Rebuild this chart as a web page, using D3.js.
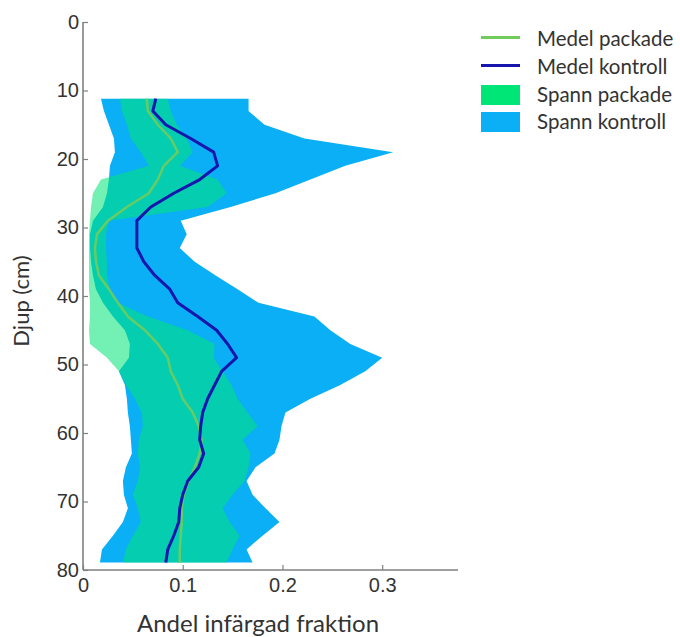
<!DOCTYPE html>
<html>
<head>
<meta charset="utf-8">
<script src="https://cdn.jsdelivr.net/npm/d3@7"></script>
<style>
  html, body { margin: 0; padding: 0; background: #fff; }
  svg { display: block; }
</style>
</head>
<body>
<script>
// Depth profile (cm) and stained fraction per depth
const depth = [11.2, 13, 15, 17, 19, 21, 23, 25, 27, 29,
               31, 33, 35, 37, 39, 41, 43, 45, 47, 49,
               51, 53, 55, 57, 59, 61, 63, 65, 67, 69,
               71, 73, 75, 77, 78.9];

const meanPackade = [0.064, 0.065, 0.075, 0.088, 0.095, 0.081, 0.075, 0.066, 0.044, 0.025,
                     0.014, 0.012, 0.013, 0.016, 0.026, 0.035, 0.045, 0.062, 0.075, 0.085,
                     0.088, 0.095, 0.100, 0.110, 0.116, 0.119, 0.117, 0.112, 0.106, 0.101,
                     0.099, 0.099, 0.098, 0.097, 0.097];

const meanKontroll = [0.073, 0.070, 0.083, 0.108, 0.131, 0.135, 0.117, 0.091, 0.068, 0.054,
                      0.054, 0.054, 0.061, 0.072, 0.087, 0.095, 0.115, 0.134, 0.145, 0.154,
                      0.139, 0.132, 0.125, 0.120, 0.118, 0.117, 0.121, 0.116, 0.105, 0.100,
                      0.097, 0.096, 0.091, 0.085, 0.083];

const spanPackadeMin = [0.037, 0.039, 0.044, 0.048, 0.058, 0.066, 0.018, 0.010, 0.008, 0.007,
                        0.006, 0.006, 0.006, 0.006, 0.006, 0.007, 0.007, 0.006, 0.007, 0.024,
                        0.036, 0.043, 0.052, 0.059, 0.060, 0.056, 0.055, 0.057, 0.055, 0.050,
                        0.055, 0.058, 0.050, 0.043, 0.040];

const spanPackadeMax = [0.085, 0.088, 0.094, 0.104, 0.110, 0.097, 0.135, 0.144, 0.125, 0.026,
                        0.023, 0.023, 0.024, 0.024, 0.027, 0.035, 0.065, 0.105, 0.132, 0.131,
                        0.140, 0.149, 0.155, 0.165, 0.175, 0.160, 0.168, 0.166, 0.162, 0.150,
                        0.140, 0.147, 0.157, 0.150, 0.144];

const spanKontrollMin = [0.018, 0.021, 0.026, 0.031, 0.032, 0.027, 0.026, 0.024, 0.020, 0.010,
                         0.007, 0.007, 0.008, 0.010, 0.013, 0.020, 0.030, 0.042, 0.047, 0.046,
                         0.036, 0.042, 0.044, 0.045, 0.047, 0.048, 0.049, 0.043, 0.040, 0.041,
                         0.045, 0.040, 0.030, 0.019, 0.017];

const spanKontrollMax = [0.166, 0.166, 0.182, 0.222, 0.311, 0.263, 0.228, 0.193, 0.148, 0.098,
                         0.104, 0.097, 0.112, 0.133, 0.155, 0.176, 0.232, 0.248, 0.268, 0.300,
                         0.283, 0.258, 0.228, 0.203, 0.199, 0.197, 0.192, 0.173, 0.164, 0.170,
                         0.183, 0.197, 0.180, 0.164, 0.170];

const yTicks = [0, 10, 20, 30, 40, 50, 60, 70, 80];
const xTicks = [0, 0.1, 0.2, 0.3];
const xTickLabels = ["0", "0.1", "0.2", "0.3"];

const legendLabels = ["Medel packade", "Medel kontroll", "Spann packade", "Spann kontroll"];
const legendKinds  = ["line", "line", "patch", "patch"];

const colors = {
  meanPackade: "#72cc5c",
  meanKontroll: "#1616ae",
  spanPackade: "#00e676",
  spanKontroll: "#0aaff5",
  axis: "#808080",
  text: "#333333"
};
const legendColors = [colors.meanPackade, colors.meanKontroll, colors.spanPackade, colors.spanKontroll];

const W = 680, H = 637;
const svg = d3.select("body").append("svg").attr("width", W).attr("height", H);

const x = d3.scaleLinear().domain([0, 0.376]).range([83, 458]);
const y = d3.scaleLinear().domain([0, 80]).range([22, 570]);

const rows = depth.map((d, i) => ({
  d,
  mp: meanPackade[i], mk: meanKontroll[i],
  pMin: spanPackadeMin[i], pMax: spanPackadeMax[i],
  kMin: spanKontrollMin[i], kMax: spanKontrollMax[i]
}));

// Range bands
const bandK = d3.area().y(r => y(r.d)).x0(r => x(r.kMin)).x1(r => x(r.kMax));
const bandP = d3.area().y(r => y(r.d)).x0(r => x(r.pMin)).x1(r => x(r.pMax));

svg.append("path").datum(rows).attr("d", bandK).attr("fill", colors.spanKontroll);
svg.append("path").datum(rows).attr("d", bandP).attr("fill", colors.spanPackade).attr("fill-opacity", 0.55);

// Mean profiles
const lineP = d3.line().y(r => y(r.d)).x(r => x(r.mp));
const lineK = d3.line().y(r => y(r.d)).x(r => x(r.mk));
svg.append("path").datum(rows).attr("d", lineP)
  .attr("fill", "none").attr("stroke", colors.meanPackade).attr("stroke-width", 2.5)
  .attr("stroke-opacity", 0.9).attr("stroke-linejoin", "round");
svg.append("path").datum(rows).attr("d", lineK)
  .attr("fill", "none").attr("stroke", colors.meanKontroll).attr("stroke-width", 3)
  .attr("stroke-linejoin", "round");

// Axes (ticks point inward)
const yAxis = d3.axisLeft(y).tickValues(yTicks).tickSizeInner(-5).tickSizeOuter(0).tickPadding(4);
const xAxis = d3.axisBottom(x).tickValues(xTicks).tickFormat((v, i) => xTickLabels[i])
  .tickSizeInner(-5).tickSizeOuter(0).tickPadding(8);

const gy = svg.append("g").attr("transform", `translate(${x(0)},0)`).call(yAxis);
const gx = svg.append("g").attr("transform", `translate(0,${y(80)})`).call(xAxis);

[gx, gy].forEach(g => {
  g.select(".domain").attr("stroke", colors.axis).attr("stroke-width", 1.6);
  g.selectAll(".tick line").attr("stroke", colors.axis).attr("stroke-width", 1.2);
  g.selectAll(".tick text")
    .attr("fill", colors.text)
    .style("font-family", "'Liberation Sans', Arial, sans-serif")
    .style("font-size", "20px");
});
// Full-length axis lines
gx.select(".domain").attr("d", `M${x(0)},0H${x.range()[1]}`);
gy.select(".domain").attr("d", `M0,${y(0)}V${y(80)}`);

// Axis titles
svg.append("text")
  .attr("x", 258).attr("y", 632)
  .attr("text-anchor", "middle")
  .attr("fill", colors.text)
  .style("font-family", "Lato, 'Open Sans', sans-serif")
  .style("font-size", "24px")
  .text("Andel infärgad fraktion");

svg.append("text")
  .attr("transform", "translate(29,301) rotate(-90)")
  .attr("text-anchor", "middle")
  .attr("fill", colors.text)
  .style("font-family", "Lato, 'Open Sans', sans-serif")
  .style("font-size", "22px")
  .text("Djup (cm)");

// Legend
const legendRowY = [39, 67, 95, 122];
const legend = svg.append("g");
legendLabels.forEach((label, i) => {
  const cy = legendRowY[i];
  if (legendKinds[i] === "line") {
    legend.append("line")
      .attr("x1", 481).attr("x2", 520).attr("y1", cy - 1.5).attr("y2", cy - 1.5)
      .attr("stroke", legendColors[i]).attr("stroke-width", 3);
  } else {
    legend.append("rect")
      .attr("x", 481).attr("y", cy - 10).attr("width", 39).attr("height", 20)
      .attr("fill", legendColors[i]);
  }
  legend.append("text")
    .attr("x", 537).attr("y", cy + 7)
    .attr("fill", colors.text)
    .style("font-family", "Lato, 'Open Sans', sans-serif")
    .style("font-size", "20.5px")
    .text(label);
});
</script>
</body>
</html>
